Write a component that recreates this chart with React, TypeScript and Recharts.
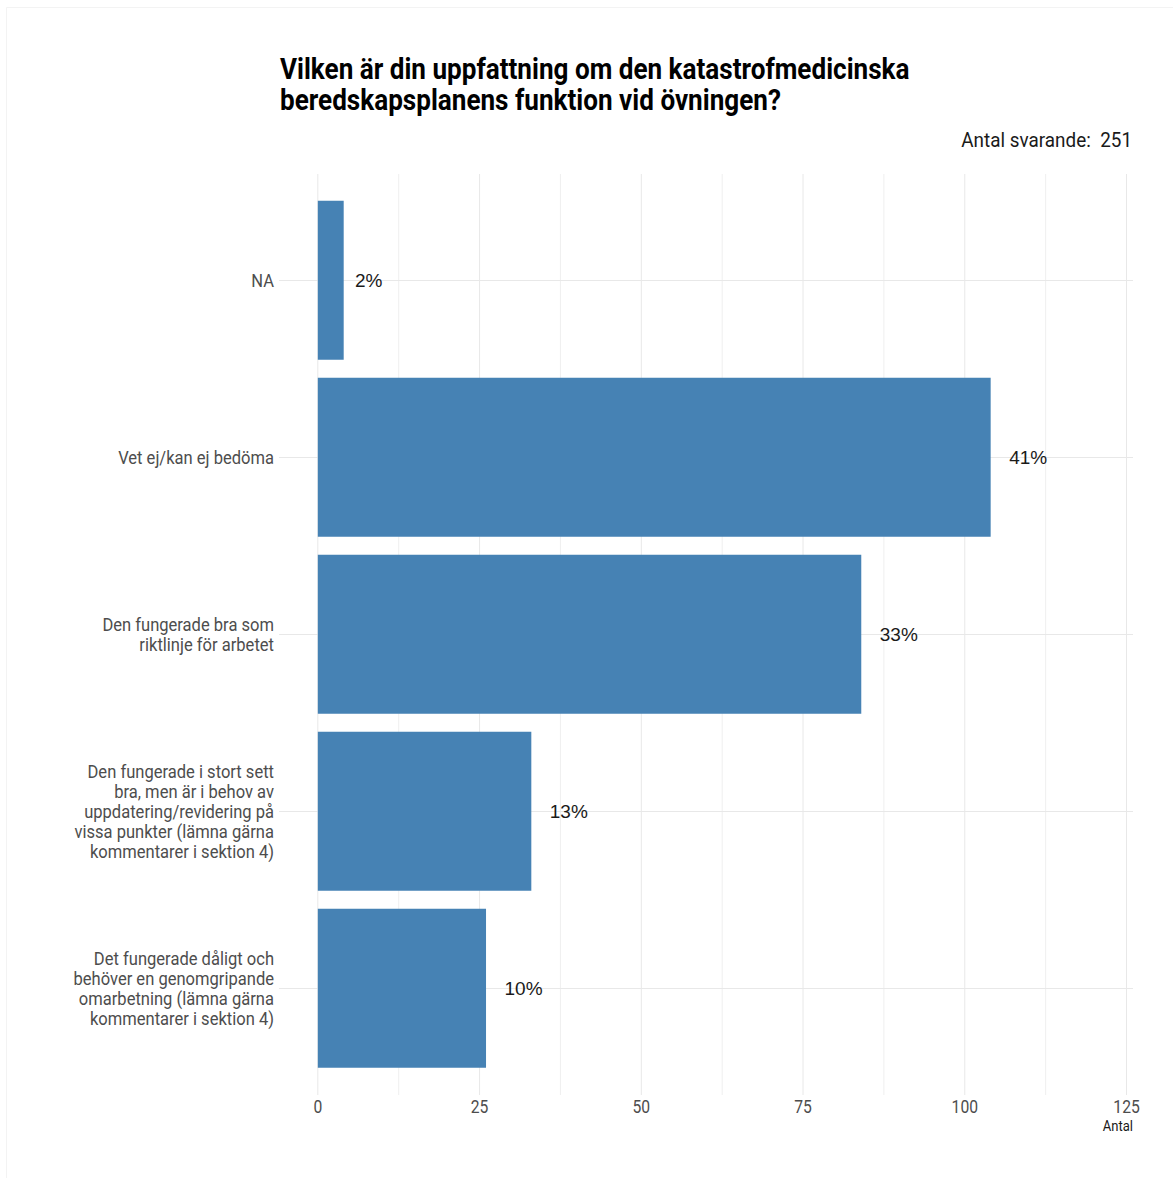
import {
  BarChart, Bar, XAxis, YAxis, CartesianGrid, LabelList,
} from 'recharts';

const categories = [
  'NA',
  'Vet ej/kan ej bedöma',
  'Den fungerade bra som riktlinje för arbetet',
  'Den fungerade i stort sett bra, men är i behov av uppdatering/revidering på vissa punkter (lämna gärna kommentarer i sektion 4)',
  'Det fungerade dåligt och behöver en genomgripande omarbetning (lämna gärna kommentarer i sektion 4)',
];

const categoryLines = [
  ['NA'],
  ['Vet ej/kan ej bedöma'],
  ['Den fungerade bra som', 'riktlinje för arbetet'],
  ['Den fungerade i stort sett', 'bra, men är i behov av', 'uppdatering/revidering på', 'vissa punkter (lämna gärna', 'kommentarer i sektion 4)'],
  ['Det fungerade dåligt och', 'behöver en genomgripande', 'omarbetning (lämna gärna', 'kommentarer i sektion 4)'],
];

const counts = [4, 104, 84, 33, 26];

const xTicks = [0, 25, 50, 75, 100, 125];
const xMinorTicks = [12.5, 37.5, 62.5, 87.5, 112.5];

const title = [
  'Vilken är din uppfattning om den katastrofmedicinska',
  'beredskapsplanens funktion vid övningen?',
];
const totalLabel = 'Antal svarande:  251';

const total = counts.reduce((a, b) => a + b, 0);
const data = categories.map((c, i) => ({
  cat: c,
  n: counts[i],
  pct: `${Math.round((counts[i] / total) * 100)}%`,
}));

const FONT = 'Roboto, "Noto Sans", sans-serif';
const SQUEEZE = 0.87; // fake a condensed face

function YTick({ x, y, payload, index }: any) {
  const lines = categoryLines[index] ?? [payload.value];
  const start = y - ((lines.length - 1) * 20) / 2 + 6.5;
  return (
    <g transform={`translate(${x},0) scale(0.92,1)`}>
      <text x={0} y={start} textAnchor="end"
        fontFamily={FONT} fontSize={18} fill="#4d4d4d">
        {lines.map((l: string, i: number) => (
          <tspan key={i} x={0} y={start + i * 20}>{l}</tspan>
        ))}
      </text>
    </g>
  );
}

function XTick({ x, y, payload }: any) {
  return (
    <g transform={`translate(${x},${y}) scale(${SQUEEZE},1)`}>
      <text x={0} y={18} textAnchor="middle" fontFamily={FONT} fontSize={18} fill="#4d4d4d">
        {payload.value}
      </text>
    </g>
  );
}

function PctLabel({ x, y, width, height, value }: any) {
  const w = String(value).length * 12.5;
  return (
    <text x={x + width + w} y={y + height / 2} dy={6.5} textAnchor="middle"
      fontFamily='"Liberation Sans", Arial, sans-serif' fontSize={19} fill="#1a1a1a">
      {value}
    </text>
  );
}

export default function App() {
  return (
    <div style={{ position: 'absolute', left: 0, top: 0, width: 1173, height: 1178, background: '#fff' }}>
      <BarChart
        width={1173}
        height={1178}
        data={data}
        layout="vertical"
        barCategoryGap="5%"
        margin={{ top: 174, right: 40, bottom: 43, left: 0 }}
      >
        <CartesianGrid stroke="#efefef" strokeWidth={1} horizontal={false}
          verticalValues={xMinorTicks} syncWithTicks />
        <CartesianGrid stroke="#e8e8e8" strokeWidth={1} syncWithTicks />
        <XAxis
          type="number"
          domain={[-6, 126]}
          ticks={xTicks}
          allowDataOverflow
          axisLine={false}
          tickLine={false}
          tickSize={0}
          tickMargin={0}
          height={40}
          tick={<XTick />}
          interval={0}
          label={{
            content: ({ viewBox }: any) => (
              <text
                transform={`translate(${viewBox.x + viewBox.width},${viewBox.y + 36}) scale(${SQUEEZE},1)`}
                textAnchor="end" fontFamily={FONT} fontSize={15} fill="#1a1a1a">
                Antal
              </text>
            ),
          }}
        />
        <YAxis
          type="category"
          dataKey="cat"
          width={279}
          axisLine={false}
          tickLine={false}
          tickSize={0}
          tickMargin={5}
          padding={{ top: 18, bottom: 18 }}
          interval={0}
          tick={<YTick />}
        />
        <Bar dataKey="n" fill="#4682B4" isAnimationActive={false}>
          <LabelList dataKey="pct" content={<PctLabel />} />
        </Bar>
      </BarChart>
      <svg width={1173} height={1178} style={{ position: 'absolute', left: 0, top: 0, pointerEvents: 'none' }}>
        <line x1={6.5} y1={7.5} x2={1173} y2={7.5} stroke="#f3f3f3" />
        <line x1={6.5} y1={7.5} x2={6.5} y2={1178} stroke="#f3f3f3" />
        <g transform="translate(280,79) scale(0.9,1)">
          <text x={0} y={0} fontFamily={FONT} fontWeight={700} fontSize={29} fill="#000">
            {title.map((t, i) => (
              <tspan key={i} x={0} y={i * 31}>{t}</tspan>
            ))}
          </text>
        </g>
        <text transform={`translate(1132,147) scale(0.9,1)`} textAnchor="end"
          fontFamily={FONT} fontSize={21} fill="#1a1a1a" style={{ whiteSpace: 'pre' }}>
          {totalLabel}
        </text>
      </svg>
    </div>
  );
}
